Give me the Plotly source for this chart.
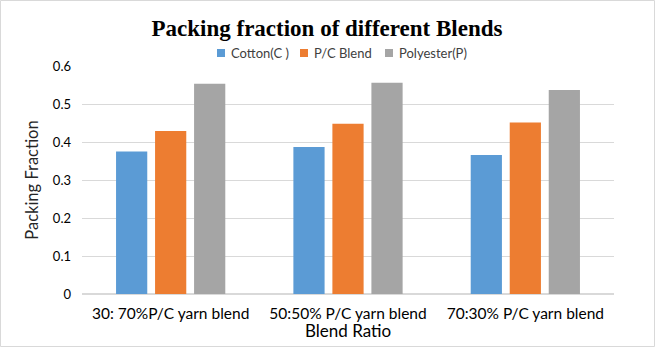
import plotly.graph_objects as go

# Blend ratios on the x axis
categories = ["30: 70%P/C yarn blend", "50:50% P/C yarn blend", "70:30% P/C yarn blend"]

# Packing fraction per fibre type
cotton = [0.375, 0.387, 0.366]
pc_blend = [0.429, 0.448, 0.451]
polyester = [0.553, 0.556, 0.537]

series_names = ["Cotton(C )", "P/C Blend", "Polyester(P)"]
colors = ["#5B9BD5", "#ED7D31", "#A5A5A5"]

y_ticks = [0, 0.1, 0.2, 0.3, 0.4, 0.5, 0.6]
y_tick_text = ["0", "0.1", "0.2", "0.3", "0.4", "0.5", "0.6"]

SANS = "Lato"

fig = go.Figure()
for name, vals, col in zip(series_names, [cotton, pc_blend, polyester], colors):
    fig.add_trace(go.Bar(x=categories, y=vals, name=name, marker_color=col,
                         marker_line_width=0, showlegend=False))

W, H = 655, 347
ml, mr, mt, mb = 82, 41, 66, 53
pw = W - ml - mr
ph = H - mt - mb


def px_x(x):
    return (x - ml) / pw


def px_y(y):
    return (H - mb - y) / ph


shapes = [dict(type="rect", xref="paper", yref="paper",
               x0=px_x(0.5), x1=px_x(W - 0.5), y0=px_y(H - 0.5), y1=px_y(0.5),
               line=dict(color="#D9D9D9", width=1))]
annotations = []

# Legend row: small square swatch followed by the series name
legend_x = [217, 300, 385]
legend_y = 53
for x0, name, col in zip(legend_x, series_names, colors):
    shapes.append(dict(type="rect", xref="paper", yref="paper",
                       x0=px_x(x0), x1=px_x(x0 + 8),
                       y0=px_y(legend_y + 4), y1=px_y(legend_y - 4),
                       fillcolor=col, line=dict(width=0)))
    annotations.append(dict(text=name, xref="paper", yref="paper",
                            x=px_x(x0 + 12), y=px_y(legend_y),
                            xanchor="left", yanchor="middle", showarrow=False,
                            font=dict(family=SANS, size=13, color="#404040")))

# X axis title
annotations.append(dict(text="Blend Ratio", xref="paper", yref="paper",
                        x=0.5, y=px_y(330), xanchor="center", yanchor="middle",
                        showarrow=False,
                        font=dict(family=SANS, size=17, color="#000000")))

fig.update_layout(
    width=W, height=H,
    margin=dict(l=ml, r=mr, t=mt, b=mb),
    paper_bgcolor="white", plot_bgcolor="white",
    barmode="group", bargap=0.34, bargroupgap=0.2,
    title=dict(text="<b>Packing fraction of different Blends</b>",
               font=dict(family="Liberation Serif", size=23, color="#000000"),
               x=327 / W, xanchor="center", xref="container",
               y=1 - 28 / H, yanchor="middle", yref="container"),
    showlegend=False,
    font=dict(family=SANS, color="#262626"),
    shapes=shapes,
    annotations=annotations,
)

fig.update_xaxes(
    showgrid=False, showline=True, linecolor="#D9D9D9", ticks="",
    ticklabelstandoff=5,
    tickfont=dict(family=SANS, size=15.5, color="#000000"),
)
fig.update_yaxes(
    range=[0, 0.6], tickvals=y_ticks, ticktext=y_tick_text,
    showgrid=True, gridcolor="#D9D9D9", zeroline=True, zerolinecolor="#D9D9D9",
    ticks="", ticklabelstandoff=10,
    tickfont=dict(family=SANS, size=13, color="#000000"),
    title=dict(text="Packing Fraction", standoff=10,
               font=dict(family=SANS, size=16.5, color="#262626")),
)

fig.write_html("out.html")
